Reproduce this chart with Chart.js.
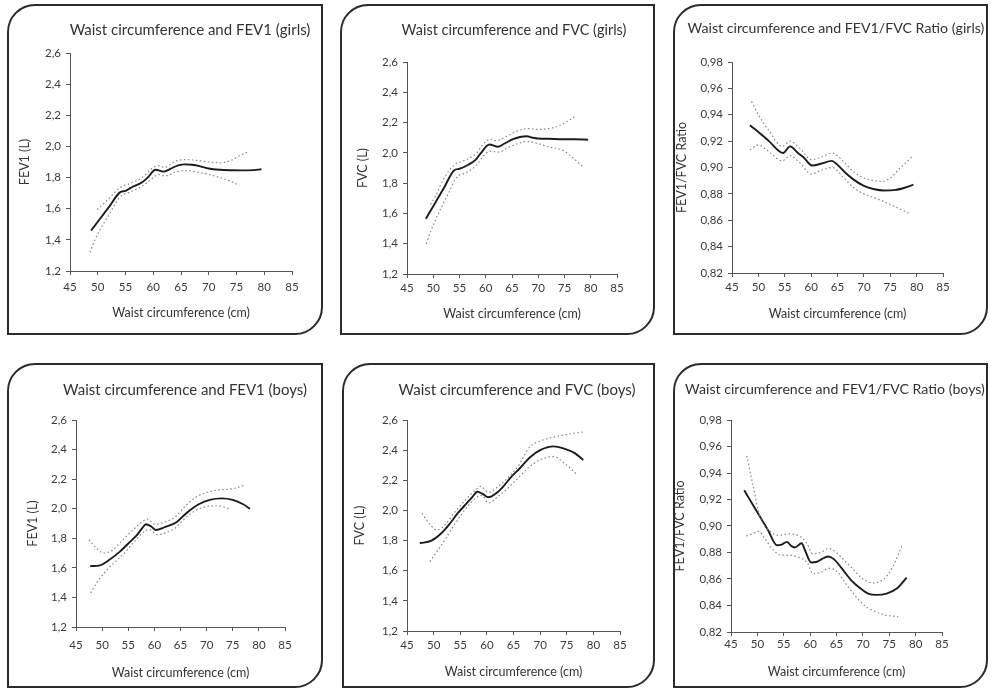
<!DOCTYPE html>
<html>
<head>
<meta charset="utf-8">
<script src="https://cdn.jsdelivr.net/npm/chart.js@4.4.1/dist/chart.umd.min.js"></script>
<style>
html,body{margin:0;padding:0;background:#fff;}
body{width:991px;height:692px;position:relative;overflow:hidden;}
.panel{position:absolute;box-sizing:border-box;border:2px solid #2b2b2b;border-radius:28px 0 28px 0;background:#fff;overflow:hidden;}
.panel canvas{position:absolute;left:0;top:0;}
</style>
</head>
<body>
<div class="panel" id="p1"><canvas id="c1"></canvas></div>
<div class="panel" id="p2"><canvas id="c2"></canvas></div>
<div class="panel" id="p3"><canvas id="c3"></canvas></div>
<div class="panel" id="p4"><canvas id="c4"></canvas></div>
<div class="panel" id="p5"><canvas id="c5"></canvas></div>
<div class="panel" id="p6"><canvas id="c6"></canvas></div>
<script>
// ---------- tick values ----------
const xTicks = [45, 50, 55, 60, 65, 70, 75, 80, 85];
const volTicks = [1.2, 1.4, 1.6, 1.8, 2.0, 2.2, 2.4, 2.6];
const ratioTicks = [0.82, 0.84, 0.86, 0.88, 0.90, 0.92, 0.94, 0.96, 0.98];

// ---------- FEV1 girls ----------
const fev1GirlsX = [48.8, 50, 52, 54, 55, 56, 58, 59, 60.4, 61.9, 63, 64.5, 65.7, 67, 68.5, 70, 72, 74, 76, 78, 79.5];
const fev1GirlsFit = [1.46, 1.516, 1.61, 1.705, 1.715, 1.735, 1.77, 1.80, 1.85, 1.838, 1.855, 1.878, 1.885, 1.882, 1.872, 1.858, 1.85, 1.847, 1.846, 1.848, 1.853];
const fev1GirlsUpX = [49.9, 51, 52, 54, 56, 58, 60, 61, 62, 64, 66, 68, 70, 72, 74, 75.5, 77];
const fev1GirlsUp = [1.595, 1.63, 1.665, 1.735, 1.765, 1.80, 1.865, 1.875, 1.865, 1.905, 1.915, 1.91, 1.90, 1.895, 1.91, 1.94, 1.965];
const fev1GirlsLoX = [48.6, 49.5, 50.5, 52, 54, 56, 58, 60, 61, 62, 64, 66, 68, 70, 72, 74, 75.5];
const fev1GirlsLo = [1.32, 1.40, 1.47, 1.56, 1.675, 1.71, 1.745, 1.80, 1.82, 1.81, 1.835, 1.845, 1.835, 1.82, 1.80, 1.775, 1.75];

// ---------- FVC girls ----------
const fvcGirlsX = [48.6, 50, 52, 54, 55, 56.6, 58.1, 59, 60.7, 62.3, 63.5, 65.2, 66.5, 67.8, 69, 70, 72, 75, 77, 79.5];
const fvcGirlsFit = [1.565, 1.648, 1.766, 1.885, 1.895, 1.92, 1.955, 1.995, 2.055, 2.04, 2.06, 2.09, 2.105, 2.11, 2.10, 2.095, 2.093, 2.09, 2.09, 2.087];
const fvcGirlsUpX = [49.5, 50.5, 52, 54, 56, 58, 60, 61, 62, 64, 66, 68, 70, 72, 74, 77];
const fvcGirlsUp = [1.66, 1.72, 1.83, 1.92, 1.95, 1.99, 2.075, 2.09, 2.08, 2.11, 2.145, 2.16, 2.155, 2.16, 2.18, 2.24];
const fvcGirlsLoX = [48.7, 49.5, 51, 53, 54.5, 56, 58, 60, 61, 62.5, 64, 66, 68, 70, 72, 74.8, 77, 78.6];
const fvcGirlsLo = [1.40, 1.48, 1.60, 1.74, 1.84, 1.865, 1.91, 1.995, 2.01, 2.005, 2.03, 2.06, 2.075, 2.06, 2.04, 2.015, 1.955, 1.905];

// ---------- FEV1/FVC girls ----------
const ratioGirlsX = [48.4, 50, 52, 54.7, 56, 57.5, 58.5, 60.2, 62, 63.9, 65, 66.5, 68, 70, 72, 73.7, 76, 78, 79.4];
const ratioGirlsFit = [0.932, 0.927, 0.92, 0.911, 0.916, 0.911, 0.908, 0.9015, 0.903, 0.905, 0.902, 0.896, 0.891, 0.886, 0.8835, 0.8826, 0.883, 0.885, 0.887];
const ratioGirlsUpX = [48.7, 50, 52, 54.5, 56, 58, 60, 62, 64, 66, 68, 70, 72, 73.5, 75, 77, 79.1];
const ratioGirlsUp = [0.95, 0.94, 0.928, 0.916, 0.92, 0.914, 0.906, 0.908, 0.911, 0.905, 0.897, 0.892, 0.89, 0.8895, 0.892, 0.90, 0.908];
const ratioGirlsLoX = [48.4, 50, 52, 54.5, 56, 58, 60, 62, 64, 66, 68, 70, 72, 75, 78.7];
const ratioGirlsLo = [0.9135, 0.917, 0.912, 0.905, 0.909, 0.903, 0.895, 0.898, 0.90, 0.893, 0.885, 0.88, 0.877, 0.872, 0.865];

// ---------- FEV1 boys ----------
const fev1BoysX = [47.7, 49.6, 51, 53.4, 55, 56.6, 57.6, 58.4, 59.4, 60.3, 62, 64.3, 65.5, 66.8, 68.5, 70.6, 72.9, 75, 77, 78.3];
const fev1BoysFit = [1.612, 1.617, 1.645, 1.71, 1.765, 1.82, 1.865, 1.895, 1.88, 1.856, 1.875, 1.91, 1.95, 1.99, 2.03, 2.06, 2.07, 2.06, 2.03, 2.0];
const fev1BoysUpX = [47.5, 49, 50.3, 52, 54, 56, 58, 58.7, 60, 62, 64, 66, 68, 70, 72, 75, 77.3];
const fev1BoysUp = [1.79, 1.73, 1.70, 1.72, 1.79, 1.86, 1.92, 1.93, 1.895, 1.91, 1.945, 2.02, 2.08, 2.11, 2.125, 2.135, 2.16];
const fev1BoysLoX = [47.8, 49, 50.5, 52, 54, 56, 58, 59, 60.5, 62, 64, 66, 68, 70, 72, 74.5];
const fev1BoysLo = [1.43, 1.50, 1.57, 1.625, 1.69, 1.77, 1.845, 1.86, 1.825, 1.835, 1.87, 1.94, 1.99, 2.015, 2.02, 2.0];

// ---------- FVC boys ----------
const fvcBoysX = [47.4, 49.6, 51.5, 53.1, 54.5, 56.2, 57.3, 58.2, 59.2, 60.3, 61.8, 63.1, 64.5, 66.2, 68, 70, 72.5, 74.5, 76.5, 78.1];
const fvcBoysFit = [1.782, 1.80, 1.85, 1.915, 1.98, 2.047, 2.09, 2.124, 2.11, 2.087, 2.115, 2.16, 2.22, 2.28, 2.35, 2.40, 2.425, 2.41, 2.38, 2.335];
const fvcBoysUpX = [47.8, 49.5, 50.6, 52, 54, 56, 58, 58.8, 60.3, 62, 64, 66, 68, 70, 73, 76, 78];
const fvcBoysUp = [1.98, 1.90, 1.87, 1.90, 1.99, 2.07, 2.14, 2.16, 2.12, 2.155, 2.22, 2.30, 2.42, 2.46, 2.49, 2.51, 2.52];
const fvcBoysLoX = [49.3, 50.5, 52, 54, 56, 58, 59, 60.3, 62, 64, 66, 68, 70, 72.5, 75, 77];
const fvcBoysLo = [1.66, 1.72, 1.80, 1.91, 2.01, 2.085, 2.10, 2.05, 2.09, 2.15, 2.22, 2.29, 2.335, 2.357, 2.30, 2.235];

// ---------- FEV1/FVC boys ----------
const ratioBoysX = [47.5, 49, 50.5, 52, 53.7, 54.6, 55.6, 56.4, 57.1, 58.4, 59, 60.2, 61.3, 62.2, 63.4, 64.5, 66, 67.8, 69.5, 71, 72.6, 74.5, 76.5, 78.3];
const ratioBoysFit = [0.927, 0.917, 0.907, 0.897, 0.8855, 0.886, 0.888, 0.885, 0.8838, 0.887, 0.882, 0.8725, 0.873, 0.875, 0.877, 0.875, 0.868, 0.859, 0.853, 0.849, 0.848, 0.849, 0.853, 0.861];
const ratioBoysUpX = [48, 49.2, 50.5, 52.4, 54, 56, 58.5, 59.5, 60.5, 62, 63.5, 65, 66, 68, 70, 72, 74, 75.5, 77.4];
const ratioBoysUp = [0.953, 0.93, 0.907, 0.896, 0.893, 0.894, 0.891, 0.886, 0.879, 0.88, 0.883, 0.88, 0.876, 0.868, 0.86, 0.857, 0.86, 0.868, 0.885];
const ratioBoysLoX = [47.9, 49, 50.2, 51.5, 53, 54.5, 56, 58, 59.5, 60.5, 62, 63.5, 65, 66.5, 68, 70, 72, 74, 76.7];
const ratioBoysLo = [0.8925, 0.894, 0.896, 0.89, 0.882, 0.878, 0.878, 0.876, 0.872, 0.864, 0.865, 0.868, 0.866, 0.858, 0.85, 0.841, 0.836, 0.833, 0.8315];

// ---------- layout (page pixel positions) ----------
const panels = [
  {id:'p1', box:[7,4,323,335],   area:[70,53,292,271],  titleX:190, titleY:30,  titleW:244, yTitleX:25,  xTitleY:313, xLabelY:287,
   title:'Waist circumference and FEV1 (girls)', yTitle:'FEV1 (L)', yTicks:volTicks, dec:1,
   fit:[fev1GirlsX,fev1GirlsFit], up:[fev1GirlsUpX,fev1GirlsUp], lo:[fev1GirlsLoX,fev1GirlsLo]},
  {id:'p2', box:[340,4,655,335], area:[407,62,617,274], titleX:514, titleY:30,  titleW:225, yTitleX:363, xTitleY:314, xLabelY:288,
   title:'Waist circumference and FVC (girls)', yTitle:'FVC (L)', yTicks:volTicks, dec:1,
   fit:[fvcGirlsX,fvcGirlsFit], up:[fvcGirlsUpX,fvcGirlsUp], lo:[fvcGirlsLoX,fvcGirlsLo]},
  {id:'p3', box:[673,4,988,335], area:[732,62,943,273], titleX:836, titleY:28,  titleW:297, yTitleX:682, xTitleY:314, xLabelY:287,
   title:'Waist circumference and FEV1/FVC Ratio (girls)', yTitle:'FEV1/FVC Ratio', yTicks:ratioTicks, dec:2,
   fit:[ratioGirlsX,ratioGirlsFit], up:[ratioGirlsUpX,ratioGirlsUp], lo:[ratioGirlsLoX,ratioGirlsLo]},
  {id:'p4', box:[7,363,323,688], area:[76,420,285,627], titleX:185, titleY:390, titleW:244, yTitleX:33,  xTitleY:673, xLabelY:645,
   title:'Waist circumference and FEV1 (boys)', yTitle:'FEV1 (L)', yTicks:volTicks, dec:1,
   fit:[fev1BoysX,fev1BoysFit], up:[fev1BoysUpX,fev1BoysUp], lo:[fev1BoysLoX,fev1BoysLo]},
  {id:'p5', box:[342,363,655,688], area:[407,420,620,631], titleX:517, titleY:390, titleW:237, yTitleX:360, xTitleY:672, xLabelY:645,
   title:'Waist circumference and FVC (boys)', yTitle:'FVC (L)', yTicks:volTicks, dec:1,
   fit:[fvcBoysX,fvcBoysFit], up:[fvcBoysUpX,fvcBoysUp], lo:[fvcBoysLoX,fvcBoysLo]},
  {id:'p6', box:[673,363,988,688], area:[731,420,942,632], titleX:835, titleY:389, titleW:300, yTitleX:680, xTitleY:672, xLabelY:644,
   title:'Waist circumference and FEV1/FVC Ratio (boys)', yTitle:'FEV1/FVC Ratio', yTicks:ratioTicks, dec:2,
   fit:[ratioBoysX,ratioBoysFit], up:[ratioBoysUpX,ratioBoysUp], lo:[ratioBoysLoX,ratioBoysLo]}
];

const FONT = 'Lato, "Liberation Sans", sans-serif';
Chart.defaults.font.family = FONT;
Chart.defaults.color = '#3a3a3a';

// Panel title drawn as canvas text, sized to the original's width and free to extend beyond the plot area
const panelTitle = {
  id:'panelTitle',
  afterDraw(chart, args, opts){
    const ctx = chart.ctx;
    ctx.save();
    ctx.font = 'normal ' + opts.size + 'px ' + FONT;
    const w = ctx.measureText(opts.text).width;
    const size = Math.min(opts.size, opts.size * opts.width / w);
    ctx.font = 'normal ' + size.toFixed(2) + 'px ' + FONT;
    ctx.fillStyle = opts.color;
    ctx.textAlign = 'center';
    ctx.textBaseline = 'middle';
    ctx.fillText(opts.text, opts.x, opts.y);
    ctx.restore();
  }
};

function zip(xs, ys){ return xs.map((x,i)=>({x:x, y:ys[i]})); }

const BORDER = 2;
const TITLE_SIZE = 15, AX_TITLE_SIZE = 12.5, TICK_SIZE = 11.5, TICK_LEN = 4;

panels.forEach(p => {
  const el = document.getElementById(p.id);
  const [x1,y1,x2,y2] = p.box;
  el.style.left = x1+'px'; el.style.top = y1+'px';
  el.style.width = (x2-x1)+'px'; el.style.height = (y2-y1)+'px';
  const left = x1+BORDER, top = y1+BORDER, W = x2-x1-2*BORDER, H = y2-y1-2*BORDER;
  const cv = el.querySelector('canvas');
  cv.width = W; cv.height = H; cv.style.width = W+'px'; cv.style.height = H+'px';
  const [L,T,R,B] = p.area;
  const cL = L-left, cT = T-top, cR = R-left, cB = B-top;
  const aLH = AX_TITLE_SIZE*1.2;
  const yTitlePad = p.yTitleX - left - aLH/2;
  const xTitlePad = (top+H) - p.xTitleY - aLH/2;
  const xTickPad = p.xLabelY - B - TICK_LEN - TICK_SIZE*1.2/2;
  const yMin = p.yTicks[0], yMax = p.yTicks[p.yTicks.length-1];

  const ci = (pts) => ({data: pts, borderColor:'#858585', borderWidth:1.2, borderDash:[1.5,2.5],
                         pointRadius:0, cubicInterpolationMode:'monotone', fill:false});
  new Chart(cv, {
    type:'line',
    data:{datasets:[
      ci(zip(p.up[0], p.up[1])),
      ci(zip(p.lo[0], p.lo[1])),
      {data: zip(p.fit[0], p.fit[1]), borderColor:'#1c1c1c', borderWidth:1.9, pointRadius:0,
       cubicInterpolationMode:'monotone', fill:false}
    ]},
    plugins:[panelTitle],
    options:{
      responsive:false, animation:false, devicePixelRatio:1,
      layout:{padding:{left:0, top:cT, right:W-cR, bottom:0}},
      plugins:{
        legend:{display:false}, tooltip:{enabled:false}, title:{display:false},
        panelTitle:{text:p.title, x:p.titleX-left, y:p.titleY-top, size:TITLE_SIZE, width:p.titleW, color:'#333'}
      },
      scales:{
        x:{type:'linear', min:45, max:85,
           afterBuildTicks: s => { s.ticks = xTicks.map(v => ({value:v})); },
           afterFit: s => { s.height = H - cB; },
           grid:{drawOnChartArea:false, drawTicks:true, tickLength:TICK_LEN, color:'#555'},
           border:{display:true, color:'#555', width:1},
           ticks:{font:{size:TICK_SIZE}, color:'#3a3a3a', padding:xTickPad, maxRotation:0, autoSkip:false},
           title:{display:true, text:'Waist circumference (cm)', color:'#333', font:{size:AX_TITLE_SIZE},
                  padding:{top:0, bottom:xTitlePad}}},
        y:{type:'linear', min:yMin, max:yMax,
           afterBuildTicks: s => { s.ticks = p.yTicks.map(v => ({value:v})); },
           afterFit: s => { s.width = cL; },
           grid:{drawOnChartArea:false, drawTicks:true, tickLength:TICK_LEN, color:'#555'},
           border:{display:true, color:'#555', width:1},
           ticks:{font:{size:TICK_SIZE}, color:'#3a3a3a', padding:5, autoSkip:false,
                  callback: v => Number(v).toFixed(p.dec).replace('.', ',')},
           title:{display:true, text:p.yTitle, color:'#333', font:{size:AX_TITLE_SIZE},
                  padding:{top:yTitlePad, bottom:0}}}
      }
    }
  });
});
</script>
</body>
</html>
